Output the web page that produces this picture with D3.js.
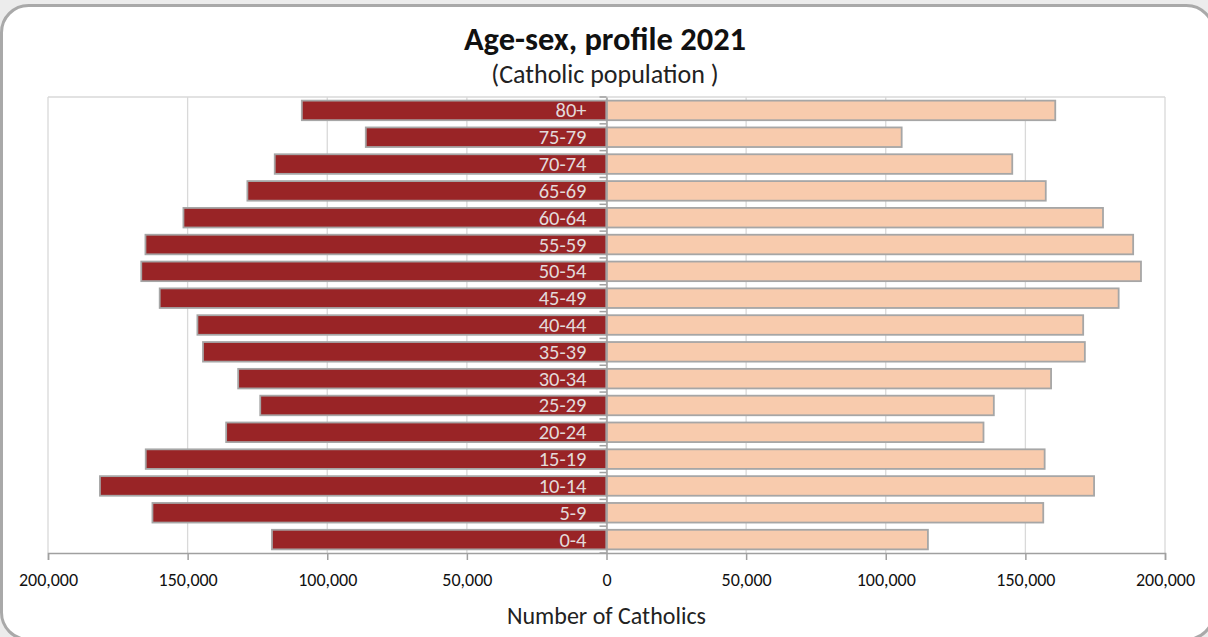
<!DOCTYPE html>
<html>
  <head>
    <meta http-equiv="Content-Type" content="text/html; charset=UTF-8">
    <script type="text/javascript" src="https://cdn.jsdelivr.net/npm/d3@7"></script>
    <style>
      body { margin: 0; background: #ececec; }
      #chart { width: 1208px; height: 637px; }
      text { font-family: Carlito, Calibri, Lato, sans-serif; }
    </style>
  </head>
  <body>
    <div id="chart"></div>
    <script>
// age groups, top to bottom as drawn
var ageGroups = ["80+", "75-79", "70-74", "65-69", "60-64", "55-59", "50-54", "45-49", "40-44",
                 "35-39", "30-34", "25-29", "20-24", "15-19", "10-14", "5-9", "0-4"];
// left side (dark red) and right side (peach), number of Catholics
var males   = [109100, 86200, 118800, 128600, 151500, 165100, 166600, 160000, 146500,
               144500, 131900, 124000, 136200, 165000, 181400, 162600, 119800];
var females = [160700, 105700, 145300, 157300, 177800, 188600, 191400, 183400, 170700,
               171300, 159200, 138700, 135000, 156900, 174600, 156400, 115100];
var xTicks = [-200000, -150000, -100000, -50000, 0, 50000, 100000, 150000, 200000];

var width = 1208, height = 637;
var margin = {top: 97, left: 48, bottom: 84, right: 43};

var svg = d3.select("#chart").append("svg")
    .attr("width", width)
    .attr("height", height);

// rounded frame (runs slightly off the right and bottom edges)
svg.append("rect")
    .attr("x", 1.5).attr("y", 5.5)
    .attr("width", 1212).attr("height", 634)
    .attr("rx", 27).attr("ry", 27)
    .attr("fill", "#fff")
    .attr("stroke", "#a9a9a9")
    .attr("stroke-width", 3);

var x = d3.scaleLinear()
    .domain([-200000, 200000])
    .range([margin.left, width - margin.right]);

var y = d3.scaleBand()
    .domain(ageGroups)
    .range([margin.top, height - margin.bottom])
    .paddingInner(0.27)
    .paddingOuter(0.135);

var plotTop = margin.top, plotBottom = height - margin.bottom;

// gridlines
svg.append("g").selectAll("line")
    .data(xTicks)
  .enter().append("line")
    .attr("x1", function (d) { return x(d); })
    .attr("x2", function (d) { return x(d); })
    .attr("y1", plotTop)
    .attr("y2", plotBottom)
    .attr("stroke", "#d9d9d9")
    .attr("stroke-width", 1.3);

// top border of plot area
svg.append("line")
    .attr("x1", x(-200000)).attr("x2", x(200000))
    .attr("y1", plotTop).attr("y2", plotTop)
    .attr("stroke", "#d9d9d9").attr("stroke-width", 1.3);

// bars
var bars = svg.append("g");
bars.selectAll(".m")
    .data(ageGroups)
  .enter().append("rect")
    .attr("class", "m")
    .attr("x", function (d, i) { return x(-males[i]); })
    .attr("y", function (d) { return y(d); })
    .attr("width", function (d, i) { return x(0) - x(-males[i]); })
    .attr("height", y.bandwidth())
    .attr("fill", "#992426")
    .attr("stroke", "#a6a6a6")
    .attr("stroke-width", 1.8);

bars.selectAll(".f")
    .data(ageGroups)
  .enter().append("rect")
    .attr("class", "f")
    .attr("x", x(0))
    .attr("y", function (d) { return y(d); })
    .attr("width", function (d, i) { return x(females[i]) - x(0); })
    .attr("height", y.bandwidth())
    .attr("fill", "#f8cbad")
    .attr("stroke", "#a6a6a6")
    .attr("stroke-width", 1.8);

// x axis
var xAxis = d3.axisBottom(x)
    .tickValues(xTicks)
    .tickSize(7)
    .tickFormat(function (d) { return d3.format(",")(Math.abs(d)); });

var gx = svg.append("g")
    .attr("transform", "translate(0," + plotBottom + ")")
    .call(xAxis);
gx.select(".domain").attr("stroke", "#a0a0a0").attr("stroke-width", 1.5);
gx.selectAll(".tick line").attr("stroke", "#a0a0a0").attr("stroke-width", 1.5);
gx.selectAll(".tick text")
    .attr("y", 20)
    .attr("font-size", "18px")
    .attr("fill", "#111")
    .style("font-family", "Carlito, Calibri, Lato, sans-serif");

// centre axis with ticks at band edges
var yAxis = d3.axisLeft(y).tickSize(0).tickFormat("");
var gy = svg.append("g")
    .attr("transform", "translate(" + x(0) + ",0)")
    .call(yAxis);
gy.select(".domain").attr("stroke", "#a0a0a0").attr("stroke-width", 1.5);
gy.selectAll(".edge")
    .data(d3.range(ageGroups.length + 1))
  .enter().append("line")
    .attr("x1", -7).attr("x2", 0)
    .attr("y1", function (i) { return plotTop + i * y.step(); })
    .attr("y2", function (i) { return plotTop + i * y.step(); })
    .attr("stroke", "#a0a0a0")
    .attr("stroke-width", 1.5);

// age labels inside the left bars
svg.append("g").selectAll("text")
    .data(ageGroups)
  .enter().append("text")
    .attr("x", x(0) - 20)
    .attr("y", function (d) { return y(d) + y.bandwidth() / 2 + 7; })
    .attr("text-anchor", "end")
    .attr("font-size", "20.5px")
    .attr("fill", "#e3dada")
    .text(function (d) { return d; });

// titles
svg.append("text")
    .attr("x", 605).attr("y", 50)
    .attr("text-anchor", "middle")
    .attr("font-size", "32.5px")
    .attr("font-weight", "bold")
    .attr("fill", "#111")
    .text("Age-sex, profile 2021");

svg.append("text")
    .attr("x", 605).attr("y", 83)
    .attr("text-anchor", "middle")
    .attr("font-size", "26px")
    .attr("fill", "#222")
    .text("(Catholic population )");

svg.append("text")
    .attr("x", x(0)).attr("y", 624)
    .attr("text-anchor", "middle")
    .attr("font-size", "24px")
    .attr("fill", "#222")
    .text("Number of Catholics");
    </script>
  </body>
</html>
